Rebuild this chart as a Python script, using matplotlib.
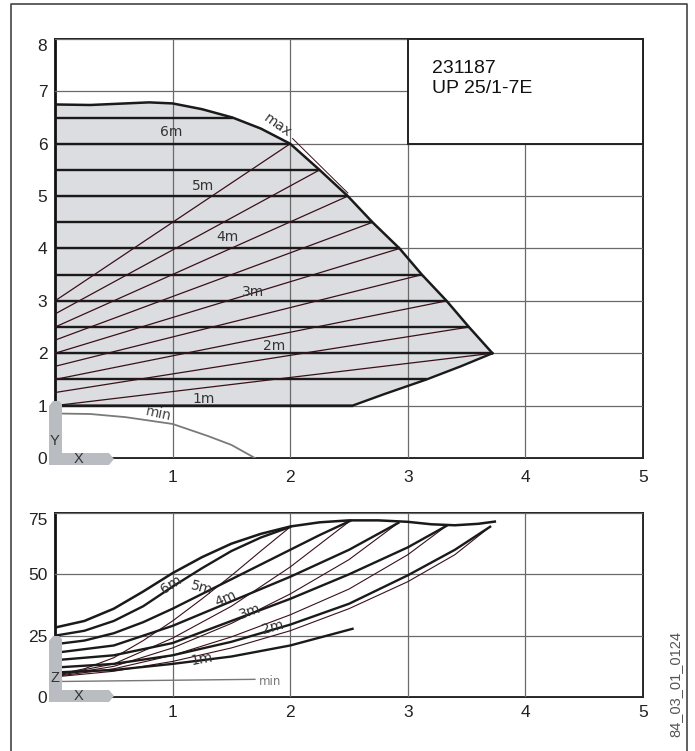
import matplotlib
matplotlib.use("Agg")
import matplotlib.pyplot as plt
from matplotlib.patches import Polygon, Rectangle
from matplotlib.lines import Line2D

plt.rcParams['font.family'] = ['Liberation Sans', 'DejaVu Sans']
NARROW = ['Liberation Sans Narrow', 'DejaVu Sans']

W, H = 695, 751

# ---- head chart (m) vs flow (m3/h) ----
max_q = [0, 0.3, 0.6, 0.8, 1.0, 1.25, 1.51, 1.75, 2.0, 2.25, 2.49, 2.70, 2.93, 3.12, 3.33, 3.52, 3.72]
max_h = [6.75, 6.74, 6.77, 6.79, 6.77, 6.66, 6.5, 6.29, 6.0, 5.5, 5.0, 4.5, 4.0, 3.5, 3.0, 2.5, 2.0]
low_q = [0, 2.53, 2.8, 3.16, 3.45, 3.72]
low_h = [1.0, 1.0, 1.22, 1.5, 1.75, 2.0]
min_q = [0, 0.3, 0.6, 1.0, 1.3, 1.5, 1.7]
min_h = [0.85, 0.84, 0.78, 0.65, 0.42, 0.25, 0.0]

# constant pressure settings and where they meet the limit curve
level_h = [1.0, 1.5, 2.0, 2.5, 3.0, 3.5, 4.0, 4.5, 5.0, 5.5, 6.0, 6.5]
level_q = [2.53, 3.16, 3.72, 3.52, 3.33, 3.12, 2.93, 2.70, 2.49, 2.25, 2.0, 1.51]

# proportional pressure lines: start head at q=0, end point on max curve
prop_h0 = [1.0, 1.25, 1.5, 1.75, 2.0, 2.25, 2.5, 2.75, 3.0]
prop_h1 = [2.0, 2.5, 3.0, 3.5, 4.0, 4.5, 5.0, 5.5, 6.0]
prop_q1 = [3.72, 3.52, 3.33, 3.12, 2.93, 2.70, 2.49, 2.25, 2.0]

head_labels = ['1m', '2m', '3m', '4m', '5m', '6m']
head_lab_x = [1.26, 1.86, 1.68, 1.47, 1.26, 0.99]
head_lab_y = [1.13, 2.14, 3.17, 4.22, 5.2, 6.23]

# ---- power chart (W) vs flow ----
pmax_q = [0, 0.25, 0.5, 0.75, 1.0, 1.25, 1.5, 1.75, 2.0, 2.25, 2.5, 2.75, 3.0, 3.2, 3.4, 3.6, 3.74]
pmax_p = [28.3, 31, 36, 43, 50.5, 57, 62.5, 66.5, 69.5, 71.2, 72, 72, 71.4, 70.4, 70, 70.6, 71.5]

p6_q = [0, 0.25, 0.5, 0.75, 1.0, 1.25, 1.5, 1.75, 2.0]
p6_p = [25, 27, 31, 37, 45, 52.5, 59.5, 65, 69.3]
p5_q = [0, 0.25, 0.5, 0.75, 1.0, 1.25, 1.5, 1.75, 2.0, 2.25, 2.51]
p5_p = [21.5, 23, 26, 30.5, 36, 42, 48, 54, 60, 66, 71.8]
p4_q = [0, 0.5, 1.0, 1.5, 2.0, 2.5, 2.92]
p4_p = [18, 21, 29, 39, 49, 60, 71]
p3_q = [0, 0.5, 1.0, 1.5, 2.0, 2.5, 3.0, 3.33]
p3_p = [15, 17, 22, 31, 40, 50, 61, 69.8]
p2_q = [0, 0.5, 1.0, 1.5, 2.0, 2.5, 3.0, 3.4, 3.7]
p2_p = [12, 13.5, 17, 22.5, 29.5, 38, 49.6, 60, 69.4]
p1_q = [0, 0.5, 1.0, 1.5, 2.0, 2.53]
p1_p = [10, 11, 13.5, 16.5, 21, 27.8]

pp6_q = [0, 0.25, 0.5, 0.75, 1.0, 1.25, 1.5, 1.75, 2.0]
pp6_p = [9, 11.5, 16, 23, 31, 40, 49.5, 59.5, 69.3]
pp5_q = [0, 0.5, 1.0, 1.5, 2.0, 2.51]
pp5_p = [8.8, 13.5, 24, 37, 53, 71.8]
pp4_q = [0, 0.5, 1.0, 1.5, 2.0, 2.5, 2.92]
pp4_p = [8.6, 12.5, 20, 30, 42, 56, 71]
pp3_q = [0, 0.5, 1.0, 1.5, 2.0, 2.5, 3.0, 3.33]
pp3_p = [8.4, 11.5, 17, 24.5, 33.5, 44, 58, 69.8]
pp2_q = [0, 0.5, 1.0, 1.5, 2.0, 2.5, 3.0, 3.4, 3.7]
pp2_p = [8.2, 10.5, 14.5, 20, 27, 36, 47, 58, 69.4]

pmin_q = [0, 1.7]
pmin_p = [6.3, 7.2]

power_lab_x = [1.25, 1.85, 1.66, 1.45, 1.25, 0.99]
power_lab_y = [15.3, 28.6, 35, 40, 44.4, 46]
power_lab_rot = [10, 15, 20, 25, -15, 33]

GRID = '#6a6a6a'
DARK = '#1a1a1a'
PROP = '#3a1018'
ICON = '#b9bdc1'


def fig_xy(px, py):
    return px / W, 1 - py / H


def style_axes(ax):
    ax.tick_params(length=0, labelsize=12.5, colors='#222')
    for s in ['top', 'right', 'bottom']:
        ax.spines[s].set_color('#222')
        ax.spines[s].set_linewidth(1.4)
    ax.spines['left'].set_color('#111')
    ax.spines['left'].set_linewidth(2.0)
    ax.grid(True, color=GRID, lw=0.9, zorder=1.5)
    ax.set_axisbelow(False)


def draw_icon(ax, top_py, bot_py, letter, letter_py):
    pts = [(49, top_py + 5), (53, top_py), (59, top_py), (62, top_py + 3),
           (62, bot_py - 12), (109, bot_py - 12), (114, bot_py - 6),
           (109, bot_py), (49, bot_py)]
    ax.add_patch(Polygon([fig_xy(*p) for p in pts], closed=True, fc=ICON, ec='none',
                         transform=fig.transFigure, clip_on=False, zorder=6))
    fig.text(*fig_xy(55, letter_py), letter, ha='center', va='center', fontsize=10.5,
             color='#333', zorder=7)
    fig.text(*fig_xy(79, bot_py - 6), 'X', ha='center', va='center', fontsize=10.5,
             color='#333', zorder=7)


fig = plt.figure(figsize=(W / 100, H / 100), dpi=100)
ax1 = fig.add_axes([55 / W, 1 - 458 / H, 588 / W, 419 / H])
ax2 = fig.add_axes([55 / W, 1 - 697 / H, 588 / W, 184 / H])

# ---------- top chart ----------
ax1.set_xlim(0, 5)
ax1.set_ylim(0, 8)
ax1.set_xticks([1, 2, 3, 4, 5])
ax1.set_yticks(range(0, 9))
style_axes(ax1)
ax1.tick_params(axis='x', pad=8.5)
ax1.tick_params(axis='y', pad=5.5)

area = list(zip(max_q, max_h)) + list(zip(low_q, low_h))[::-1]
ax1.add_patch(Polygon(area, closed=True, fc='#dcdde0', ec='none', zorder=1))

for h, q in zip(level_h, level_q):
    ax1.plot([0, q], [h, h], color=DARK, lw=1.7, zorder=3, solid_capstyle='butt')
for h0, h1, q1 in zip(prop_h0, prop_h1, prop_q1):
    ax1.plot([0, q1], [h0, h1], color=PROP, lw=0.9, zorder=3)
ax1.plot(max_q, max_h, color=DARK, lw=1.8, zorder=4)
ax1.plot(low_q, low_h, color=DARK, lw=1.7, zorder=4)
ax1.plot([2.02, 2.49], [6.1, 5.06], color=PROP, lw=0.7, zorder=4)
ax1.plot(min_q, min_h, color='#7a7a7a', lw=1.3, zorder=3)

for t, x, y in zip(head_labels, head_lab_x, head_lab_y):
    ax1.text(x, y, t, ha='center', va='center', fontsize=10, color='#333',
             family=NARROW, zorder=5)
ax1.text(1.89, 6.35, 'max', rotation=-35, ha='center', va='center', fontsize=10,
         color='#333', family=NARROW, zorder=5)
ax1.text(0.88, 0.84, 'min', rotation=-12, ha='center', va='center', fontsize=10,
         color='#444', family=NARROW, zorder=5)

# type box
ax1.add_patch(Rectangle((3, 6), 2, 2, fc='white', ec='#222', lw=1.4, zorder=5, clip_on=False))
ax1.text(3.21, 7.6, '231187\nUP 25/1-7E', ha='left', va='top', fontsize=14, color='#111',
         zorder=6)

ax1.get_yticklabels()[-1].set_va('top')
draw_icon(ax1, 401, 465, 'Y', 441)

# ---------- bottom chart ----------
ax2.set_xlim(0, 5)
ax2.set_ylim(0, 75)
ax2.set_xticks([1, 2, 3, 4, 5])
ax2.set_yticks([0, 25, 50, 75])
style_axes(ax2)
ax2.tick_params(axis='x', pad=6)
ax2.tick_params(axis='y', pad=5.5)

for q, p in [(pp6_q, pp6_p), (pp5_q, pp5_p), (pp4_q, pp4_p), (pp3_q, pp3_p), (pp2_q, pp2_p)]:
    ax2.plot(q, p, color=PROP, lw=0.8, zorder=3)
for q, p in [(p6_q, p6_p), (p5_q, p5_p), (p4_q, p4_p), (p3_q, p3_p), (p2_q, p2_p), (p1_q, p1_p)]:
    ax2.plot(q, p, color=DARK, lw=1.7, zorder=4)
ax2.plot(pmax_q, pmax_p, color=DARK, lw=1.8, zorder=4)
ax2.plot(pmin_q, pmin_p, color='#777', lw=1.0, zorder=3)
ax2.text(1.73, 6.2, 'min', ha='left', va='center', fontsize=8.5, color='#777',
         family=NARROW, zorder=5)

for t, x, y, r in zip(head_labels, power_lab_x, power_lab_y, power_lab_rot):
    ax2.text(x, y, t, rotation=r, ha='center', va='center', fontsize=10, color='#333',
             family=NARROW, zorder=5)

ax2.get_yticklabels()[-1].set_va('top')
draw_icon(ax2, 636, 702, 'Z', 678)

# frame and drawing number
fig.add_artist(Line2D([11 / W, 11 / W, 687 / W, 687 / W], [0, 1 - 4 / H, 1 - 4 / H, 0],
                      transform=fig.transFigure, color='#444', lw=1.2))
fig.text(*fig_xy(675, 684), '84_03_01_0124', rotation=90, ha='center', va='center',
         fontsize=10.5, color='#555')

fig.savefig('out.png', dpi=100)
